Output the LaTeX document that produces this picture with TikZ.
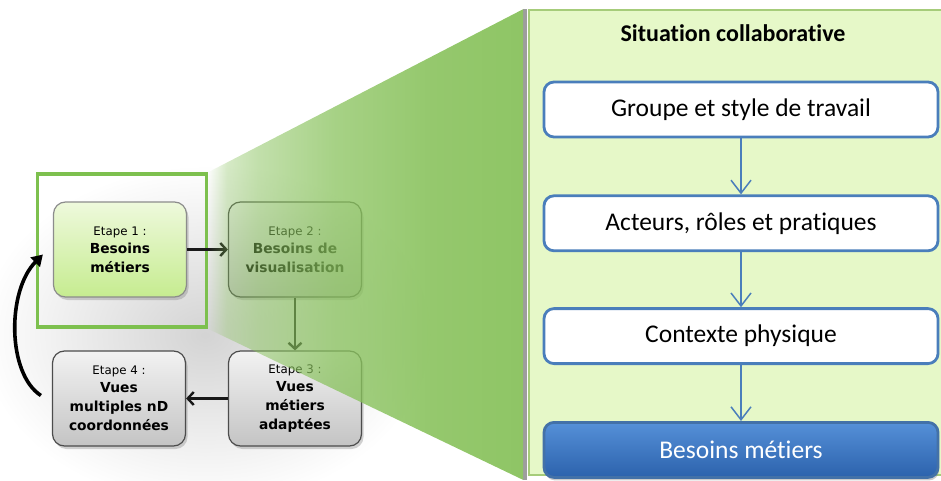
\documentclass[tikz,border=0pt]{standalone}
\usepackage{fontspec}
\setmainfont{Carlito}[RawFeature=-liga]
\newfontfamily\stepfont{DejaVu Sans}
\usetikzlibrary{arrows.meta, positioning, calc, shadows, fadings}
\definecolor{cframe}{HTML}{7DC04E}
\definecolor{cwedge}{HTML}{89C25D}
\definecolor{cpanel}{HTML}{E6F8C8}
\definecolor{cpanelline}{HTML}{A6CC7A}
\definecolor{cblue}{HTML}{4A7EBB}
\definecolor{cbluetop}{HTML}{5590D8}
\definecolor{cbluebot}{HTML}{2C62AC}
\definecolor{clighttop}{HTML}{EEF9DC}
\definecolor{clightbot}{HTML}{C6EC90}
\definecolor{cgreytop}{HTML}{F2F2F2}
\definecolor{cgreybot}{HTML}{C4C4C4}
\pgfdeclarehorizontalshading{wedgeramp}{100bp}{color(0bp)=(pgftransparent!100); color(25bp)=(pgftransparent!100); color(28bp)=(pgftransparent!65); color(33bp)=(pgftransparent!48); color(45bp)=(pgftransparent!25); color(60bp)=(pgftransparent!10); color(75bp)=(pgftransparent!5); color(100bp)=(pgftransparent!5)}
\pgfdeclarefading{wedgefade}{\pgfuseshading{wedgeramp}}
\tikzset{
  every picture/.style={line width=1pt},
  etape/.style={draw=black!70, rounded corners=12pt, align=center, minimum width=133pt, minimum height=95pt, line width=1.2pt,
    top color=cgreytop, bottom color=cgreybot, font=\stepfont\bfseries\fontsize{13.8}{19}\selectfont,
    drop shadow={opacity=0.35, shadow xshift=2pt, shadow yshift=-3pt}},
  steparrow/.style={-{Straight Barb[length=6pt, width=13pt]}, line width=2.4pt, draw=black!90},
  looparrow/.style={-{Triangle[length=11pt, width=13pt]}, line width=3.6pt},
  flowbox/.style={draw=cblue, fill=white, rounded corners=10pt, line width=2.8pt, minimum width=394pt, minimum height=55pt,
    font=\fontsize{25.5}{29}\selectfont},
  flowarrow/.style={-{Straight Barb[length=13pt, width=20pt]}, draw=cblue, line width=1.5pt},
}
\newcommand{\etapetitle}[1]{{\stepfont\mdseries\fontsize{11.8}{14}\selectfont #1}}

\begin{document}
\begin{tikzpicture}[x=1pt, y=-1pt]
  \useasboundingbox (0,0) rectangle (941,481);
  % soft grey backdrop of the cycle
  \shade[inner color=black!17, outer color=white] (205,335) ellipse [x radius=225, y radius=170];
  % the four steps
  \node[draw=cframe, line width=3.8pt, minimum width=169pt, minimum height=153pt] (sel) at (122,250.5) {};
  \node[etape, draw=black!45, top color=clighttop, bottom color=clightbot] (e1) at (120,249.5) {\etapetitle{Etape 1 :}\\[-1pt]Besoins\\métiers};
  \node[etape] (e2) at (295,249.5) {\etapetitle{Etape 2 :}\\[-1pt]Besoins de\\visualisation};
  \node[etape] (e3) at (295,398.5) {\etapetitle{Etape 3 :}\\[-1pt]Vues\\métiers\\adaptées};
  \node[etape] (e4) at (119,398.5) {\etapetitle{Etape 4 :}\\[-1pt]Vues\\multiples nD\\coordonnées};
  \draw[steparrow] (e1) -- (e2);
  \draw[steparrow] (e2) -- (e3);
  \draw[steparrow] (e3) -- (e4);
  \coordinate (loopfrom) at ($(e4.west)+(-11,-3)$);
  \coordinate (loopto) at ($(e1.west)+(-10,5)$);
  \draw[looparrow] (loopfrom) .. controls ($(loopfrom)+(-34,-22)$) and ($(loopto)+(-36,36)$) .. (loopto);
  % zoomed panel
  \node[draw=cpanelline, fill=cpanel, line width=1.6pt, minimum width=416pt, minimum height=465pt] (panel) at (737,242.5) {};
  \draw[black!38, line width=4pt] ($(panel.north west)+(-3,0)$) -- ($(panel.south west)+(-3,4)$);
  \fill[cwedge, path fading=wedgefade] (sel.north east) -- ($(panel.north west)+(-5,0)$) -- ($(panel.south west)+(-5,4)$) -- (sel.south east) -- cycle;
  \node[font=\bfseries\fontsize{24}{28}\selectfont] (title) at (733,33) {Situation collaborative};
  \node[flowbox] (g1) at (741,109.5) {Groupe et style de travail};
  \node[flowbox, below=56pt of g1] (g2) {Acteurs, rôles et pratiques};
  \node[flowbox, below=55pt of g2] (g3) {Contexte physique};
  \node[flowbox, below=56pt of g3, draw=cblue!90!black, top color=cbluetop, bottom color=cbluebot, text=white,
    drop shadow={opacity=0.4, shadow xshift=1pt, shadow yshift=-3pt}] (g4) {Besoins métiers};
  \draw[flowarrow] (g1) -- (g2);
  \draw[flowarrow] (g2) -- (g3);
  \draw[flowarrow] (g3) -- (g4);
\end{tikzpicture}
\end{document}
